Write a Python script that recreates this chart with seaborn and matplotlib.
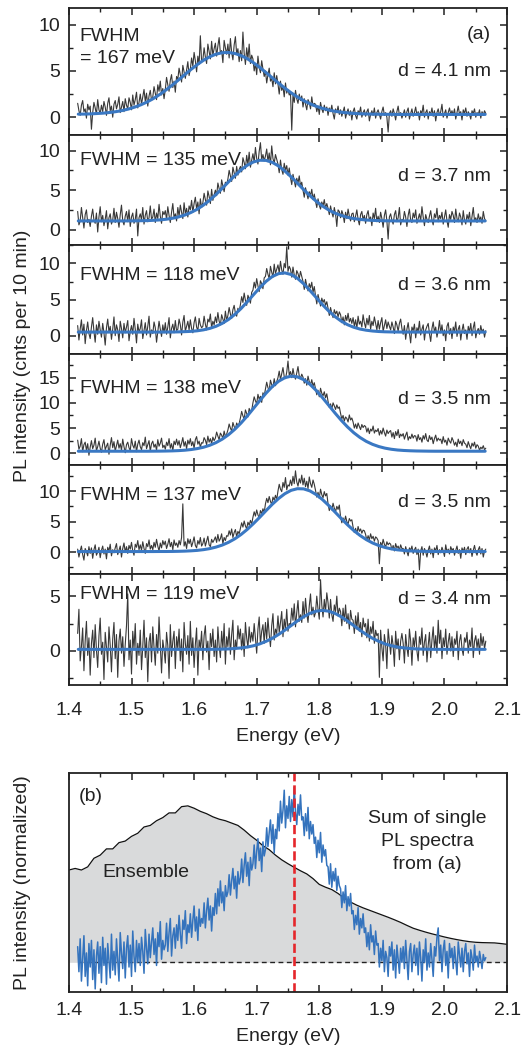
import numpy as np
import matplotlib
matplotlib.use("Agg")
import matplotlib.pyplot as plt
from matplotlib.ticker import MultipleLocator
import seaborn as sns

# single-dot PL spectra (cnts per 10 min), grid starts at 1.414 eV, 2 meV steps
counts_41 = [1.5, 0.7, 0.2, 1.3, 1.8, 0.6, 0.9, -0.1, 1.4, 0.8,
             1.2, -1.3, 0.5, 1.6, 1.0, 0.3, 1.9, 0.8, 0.4, 1.3,
             0.6, 1.7, 1.1, 0.2, 1.5, 2.1, 0.7, 1.2, 0.0, 1.4,
             1.8, 0.9, 1.4, 2.2, 0.5, 1.1, 1.7, 0.6, 2.0, 1.3,
             0.9, 2.1, 1.6, 0.8, 2.4, 1.3, 1.9, 2.7, 1.0, 1.6,
             2.5, 1.4, 2.2, 3.0, 1.7, 2.6, 1.2, 2.3, 2.9, 1.8,
             2.2, 3.3, 2.6, 1.9, 3.5, 2.8, 3.9, 2.4, 3.1, 2.0,
             3.0, 4.3, 3.5, 2.8, 4.0, 4.6, 3.2, 3.9, 2.7, 4.4,
             4.1, 5.3, 4.6, 3.8, 5.6, 4.9, 4.2, 5.1, 6.0, 4.5,
             5.2, 6.4, 5.5, 7.0, 6.1, 4.9, 6.6, 5.7, 8.8, 6.0,
             6.2, 7.5, 6.5, 5.8, 7.9, 7.1, 6.3, 8.2, 6.7, 7.4,
             8.0, 6.6, 7.7, 8.6, 6.9, 7.2, 5.9, 8.3, 7.5, 6.8,
             7.9, 6.4, 8.5, 7.0, 6.2, 7.8, 8.7, 6.8, 7.4, 6.0,
             7.2, 6.1, 9.2, 6.9, 5.7, 7.5, 6.3, 7.9, 5.8, 6.7,
             6.3, 5.0, 5.8, 4.6, 6.6, 5.4, 4.8, 6.1, 5.2, 4.4,
             5.0, 3.7, 4.6, 5.3, 3.9, 4.2, 3.3, 4.8, 3.6, 4.5,
             3.6, 2.5, 3.9, 2.9, 3.3, 2.2, 3.7, 2.6, 3.0, 2.4,
             2.7, -1.4, 2.4, 1.6, 2.9, 2.0, 1.5, 2.5, 1.8, 2.3,
             1.1, 2.0, 1.4, 0.8, 1.9, 1.6, 0.9, 2.2, 1.2, 1.5,
             1.4, 0.6, 1.2, 0.3, 1.6, 0.9, 0.5, 1.3, 0.7, 1.1,
             0.2, 1.0, 0.6, 1.3, 0.4, -0.2, 0.9, 0.5, 1.2, 0.3,
             0.8, 0.1, 0.6, 1.1, -0.1, 0.5, 0.9, 0.2, 0.7, -0.3,
             0.6, 1.0, 0.2, -0.2, 0.7, 0.4, 1.1, 0.0, 0.5, 0.8,
             0.1, 0.6, 0.9, -0.4, 0.3, 0.7, 0.2, 1.0, -0.1, 0.5,
             0.8, 0.3, -0.2, 0.6, 1.1, 0.2, 0.5, 0.0, -1.6, 0.4,
             0.7, 0.1, 0.9, 0.4, -0.3, 0.6, 1.2, 0.2, 0.5, -0.1,
             0.3, 0.8, 0.0, 0.6, 1.0, -0.2, 0.4, 0.9, 0.1, 0.5,
             1.1, 0.2, 0.6, -0.3, 0.7, 0.4, 1.3, 0.0, 0.5, 0.8,
             -0.2, 0.6, 0.3, 1.0, 0.1, 0.7, -0.4, 0.5, 0.9, 0.2,
             0.6, 1.4, 0.0, 0.4, 0.8, -0.1, 0.5, 1.0, 0.3, 0.7,
             0.2, 0.9, -0.2, 0.5, 1.2, 0.3, 0.6, -0.3, 0.8, 0.4,
             1.0, 0.1, 0.6, 0.3, -0.2, 0.7, 0.4, 0.9, 0.0, 0.5,
             0.3, 0.8, -0.1, 0.6, 0.2, 0.7, 0.4]
counts_37 = [2.3, 0.6, 1.1, 2.8, 1.5, 0.2, 1.9, 2.5, 0.9, 1.3,
             0.4, 1.7, 2.6, 1.2, 0.8, 2.1, -0.3, 1.6, 2.9, 1.0,
             1.8, 0.5, 1.3, 2.4, 0.1, 1.5, 2.0, 0.7, 1.2, 2.7,
             0.9, 2.2, 1.4, 0.3, 1.9, 3.1, 1.1, 0.6, 1.7, 2.3,
             1.0, 2.5, 0.4, 1.6, 2.1, 0.8, 1.3, 2.6, -0.8, 1.5,
             2.0, 1.2, 2.8, 0.7, 1.8, 2.4, 1.0, 1.5, 3.0, 1.3,
             1.6, 2.6, 0.9, 2.1, 1.4, 3.2, 1.7, 0.8, 2.3, 1.9,
             2.4, 1.3, 2.9, 1.8, 0.9, 2.2, 3.3, 1.5, 2.0, 1.1,
             2.8, 1.7, 3.1, 2.2, 1.4, 3.4, 2.0, 2.7, 1.6, 3.0,
             2.5, 3.7, 2.2, 3.3, 4.1, 2.6, 3.5, 2.0, 3.9, 2.8,
             3.4, 4.6, 3.8, 3.1, 4.9, 4.2, 3.3, 5.1, 3.7, 4.4,
             5.0, 4.3, 5.9, 5.2, 4.6, 6.3, 5.5, 4.8, 6.0, 5.7,
             6.4, 7.5, 6.8, 6.1, 7.9, 7.2, 6.5, 8.0, 6.9, 7.6,
             8.0, 7.3, 9.1, 8.5, 7.7, 9.4, 8.2, 9.8, 7.9, 8.8,
             9.6, 8.5, 10.4, 9.0, 8.3, 9.9, 11.0, 8.8, 9.5, 8.7,
             9.3, 10.2, 8.6, 9.7, 8.2, 10.6, 9.0, 8.4, 9.5, 8.9,
             8.3, 7.2, 8.8, 7.6, 7.0, 8.4, 7.5, 8.1, 6.9, 7.8,
             6.6, 5.7, 7.0, 6.2, 5.4, 6.5, 5.9, 6.8, 5.5, 6.0,
             5.0, 4.1, 5.3, 4.6, 3.9, 4.8, 4.3, 5.1, 3.8, 4.5,
             3.6, 2.8, 3.9, 3.1, 2.6, 3.5, 3.0, 3.8, 2.7, 3.3,
             2.7, 1.9, 3.0, 2.2, 1.6, 2.8, 2.0, 0.4, 2.5, 2.3,
             1.5, 2.4, 1.9, 0.9, 2.2, 1.4, 2.6, 1.7, 1.1, 2.0,
             2.1, 1.0, 1.7, 2.5, 1.3, 0.6, 1.9, 2.3, 1.2, 1.8,
             0.8, 1.9, 2.4, 1.2, 1.6, 0.5, 2.1, 1.4, 2.7, 1.0,
             1.7, 0.9, 2.2, 1.4, 0.3, 1.8, 2.5, 1.1, -1.2, 1.6,
             2.0, 1.2, 0.7, 1.9, 2.4, 1.0, 1.5, 2.8, 0.6, 1.3,
             1.1, 2.3, 1.6, 0.4, 1.8, 2.6, 1.2, 0.9, 2.1, 1.5,
             2.5, 0.8, 1.4, 2.0, 1.1, 2.9, 1.6, 0.5, 1.9, 1.3,
             0.9, 1.7, 2.4, 1.2, 0.6, 2.0, 1.5, 2.7, 1.0, 1.8,
             1.4, 2.2, 0.7, 1.6, 2.5, 1.1, 0.3, 1.9, 1.3, 2.3,
             1.8, 0.9, 2.6, 1.4, 1.0, 2.1, 1.6, 0.6, 2.4, 1.2,
             0.7, 1.9, 1.3, 2.2, 0.5, 1.7, 2.8, 1.1, 1.5, 0.9,
             2.0, 1.2, 1.6, 0.8, 2.3, 1.4, 1.1]
counts_36 = [1.4, -0.6, 0.9, 2.2, 0.1, 1.6, -1.1, 0.7, 1.9, 0.3,
             -0.4, 1.2, 2.5, 0.6, -0.9, 1.5, 0.2, 2.0, 0.8, -0.2,
             1.7, 0.4, -1.3, 1.1, 2.3, 0.5, 1.3, -0.5, 0.9, 2.6,
             0.0, 1.5, 0.8, -0.8, 2.0, 1.0, -0.3, 1.7, 0.4, 1.2,
             2.1, -0.7, 0.6, 1.4, 0.2, 2.4, 0.9, -1.0, 1.6, 0.5,
             1.0, 2.2, -0.4, 0.7, 1.8, 0.1, 1.3, 2.7, -0.2, 0.8,
             0.3, 1.9, 1.1, -0.9, 0.6, 2.0, 0.9, -0.1, 1.5, 0.4,
             1.8, 0.2, 1.2, 2.5, -0.3, 1.0, 1.6, 0.4, 2.1, 0.7,
             0.9, 2.3, 1.5, 0.1, 1.9, 2.8, 0.6, 1.3, 2.0, 0.8,
             2.2, 1.0, 0.4, 1.8, 2.6, 1.2, 0.7, 2.4, 1.5, 1.1,
             1.3, 2.7, 1.6, 0.8, 2.3, 1.9, 3.0, 1.1, 2.0, 1.5,
             2.6, 1.8, 3.2, 2.0, 1.5, 2.9, 2.3, 1.7, 3.4, 2.1,
             2.8, 3.9, 3.0, 2.4, 3.6, 4.2, 3.1, 2.7, 3.8, 3.4,
             4.3, 5.4, 4.6, 5.9, 4.9, 4.2, 5.6, 5.1, 4.5, 6.0,
             6.3, 7.4, 6.6, 7.9, 6.9, 6.1, 7.6, 7.2, 6.5, 8.0,
             8.2, 9.3, 8.5, 7.9, 9.6, 8.8, 8.1, 9.9, 8.6, 9.2,
             9.8, 8.7, 10.3, 9.1, 8.5, 10.0, 9.4, 12.3, 8.9, 9.6,
             9.2, 8.1, 9.5, 8.4, 7.8, 9.0, 8.6, 7.9, 8.9, 8.2,
             7.5, 6.4, 7.8, 6.9, 6.2, 7.2, 6.6, 7.4, 6.0, 6.8,
             5.5, 4.4, 5.7, 4.9, 4.1, 5.2, 4.6, 5.0, 4.2, 4.7,
             3.8, 2.8, 3.9, 3.1, 2.5, 3.6, 3.0, 3.4, 2.6, 3.3,
             2.9, 1.8, 2.6, 1.5, 2.8, 2.1, 3.1, 1.9, 2.4, 1.7,
             2.5, 1.3, 2.2, 1.0, 2.7, 1.6, 2.0, 1.2, 2.9, 1.8,
             1.1, 2.4, 1.5, 2.8, 0.9, 2.0, 1.4, 2.6, 1.7, 0.8,
             2.1, 0.9, 1.8, 2.5, 0.6, 1.4, 2.2, 1.0, 1.9, 1.3,
             0.8, 1.9, 1.2, 0.3, 2.0, 1.5, 0.6, 1.7, 2.3, 1.0,
             0.2, 1.4, -0.5, 0.9, 1.8, 0.4, -1.0, 1.2, 0.7, 1.6,
             -0.3, 1.1, 0.6, 2.0, 0.1, 0.9, 1.5, -0.6, 0.8, 1.3,
             1.7, 0.3, -0.8, 1.0, 1.9, 0.5, 1.2, -0.2, 0.7, 2.1,
             0.4, 1.5, 0.0, 0.8, -0.7, 1.3, 1.8, 0.2, 1.0, -0.4,
             1.2, 0.6, 1.9, -0.1, 0.9, 1.4, -0.6, 0.7, 1.6, 0.3,
             0.8, -0.5, 1.3, 0.5, 1.7, 0.0, 1.1, 1.9, -0.3, 0.6,
             1.0, 0.2, 1.4, 0.5, 0.9, -0.2, 0.7]
counts_35a = [2.6, 0.8, 1.4, 2.9, 0.3, 1.7, 2.2, 0.6, 1.9, -0.4,
              1.2, 2.5, 0.9, 1.6, 3.0, 0.5, 1.3, 2.4, 1.0, 0.2,
              1.8, 2.7, 0.7, 1.4, 2.0, -0.2, 1.6, 3.1, 1.1, 2.3,
              0.4, 1.5, 2.6, 1.0, 1.9, 0.6, 2.8, 1.3, 0.1, 1.7,
              2.2, 1.1, 0.5, 2.9, 1.6, 1.0, 2.4, 0.3, 1.8, 2.6,
              1.3, 0.7, 2.1, 1.5, 3.2, 0.9, 1.7, 2.5, 0.4, 1.9,
              2.4, 1.2, 1.8, 0.6, 2.7, 1.4, 2.0, 3.0, 1.1, 1.6,
              0.8, 2.2, 1.5, 2.9, 1.0, 1.9, 0.5, 2.4, 1.7, 2.8,
              1.6, 2.5, 1.1, 2.0, 3.1, 1.4, 2.3, 0.9, 2.6, 1.8,
              2.9, 1.5, 2.3, 1.0, 2.7, 3.3, 1.8, 2.4, 1.2, 2.1,
              2.0, 3.1, 2.6, 1.7, 3.4, 2.2, 2.9, 1.9, 3.2, 2.5,
              3.0, 4.2, 3.4, 2.7, 4.0, 3.6, 2.9, 4.4, 3.3, 3.8,
              4.6, 5.8, 5.0, 4.4, 6.1, 5.3, 4.8, 6.0, 5.5, 5.9,
              7.0, 8.3, 7.4, 6.8, 8.6, 7.9, 7.2, 8.9, 8.1, 8.5,
              10.0, 11.2, 10.4, 9.8, 11.7, 10.7, 11.3, 10.1, 12.0, 11.4,
              12.8, 14.1, 13.0, 12.5, 14.5, 13.6, 13.1, 14.8, 13.4, 14.2,
              15.0, 16.3, 14.6, 15.8, 17.0, 15.2, 14.8, 16.1, 18.3, 15.5,
              16.2, 15.0, 16.8, 15.4, 14.7, 16.0, 17.2, 15.3, 14.9, 15.7,
              15.1, 13.9, 14.8, 13.5, 15.3, 14.2, 13.6, 14.6, 13.3, 14.0,
              12.8, 11.6, 12.5, 11.2, 12.9, 11.9, 11.4, 12.2, 11.0, 11.8,
              10.3, 9.1, 9.8, 8.8, 10.0, 9.4, 8.7, 9.6, 8.9, 9.2,
              7.9, 6.8, 7.5, 6.4, 7.2, 6.9, 6.2, 7.6, 6.6, 7.0,
              6.2, 5.0, 5.8, 4.9, 6.0, 5.3, 4.7, 5.7, 5.1, 5.5,
              5.3, 4.2, 5.0, 3.9, 4.8, 4.4, 5.4, 4.0, 4.6, 4.3,
              4.9, 3.6, 4.5, 3.8, 5.0, 4.1, 3.4, 4.6, 3.9, 4.3,
              4.5, 3.2, 4.1, 2.9, 4.3, 3.5, 4.7, 3.1, 3.8, 3.4,
              3.9, 2.8, 3.6, 4.2, 2.6, 3.3, 2.9, 3.8, 3.0, 3.5,
              3.4, 2.4, 3.7, 2.7, 3.1, 2.2, 3.5, 2.8, 3.9, 2.6,
              2.3, 3.5, 2.7, 3.2, 1.9, 2.9, 3.6, 2.4, 3.0, 2.6,
              2.8, 1.9, 3.3, 2.2, 2.6, 1.6, 3.0, 2.4, 2.0, 3.1,
              2.5, 1.6, 2.2, 1.3, 2.8, 1.9, 2.4, 1.5, 2.7, 2.0,
              1.8, 1.1, 2.3, 1.5, 0.9, 2.0, 1.4, 2.2, 1.0, 1.7,
              1.4, 0.6, 1.2, 0.9, 1.5, 0.7, 1.0]
counts_35b = [0.5, -0.8, 0.2, 1.0, -0.4, -1.3, 0.6, 0.1, -0.6, 0.9,
              -0.2, 0.7, -1.0, 0.4, 1.2, -0.5, 0.0, 0.8, -0.9, 0.3,
              1.0, -0.3, 0.5, -1.1, 0.8, 0.2, 1.3, -0.6, 0.4, -0.1,
              0.7, 1.4, -0.4, 0.3, 1.0, -0.8, 0.6, 1.5, 0.0, 0.9,
              -0.2, 1.1, 0.5, 1.6, 0.2, -0.5, 1.3, 0.8, 1.9, 0.4,
              1.2, 0.3, 1.7, 0.6, -0.2, 1.4, 0.9, 2.0, 0.5, 1.1,
              0.4, 1.6, 0.8, 2.1, 1.0, 0.2, 1.5, 0.7, 1.9, 1.2,
              1.8, 0.6, 1.3, 2.2, 0.9, 1.6, 0.4, 2.0, 1.1, 1.5,
              0.8, 1.9, 1.2, 2.4, 7.9, 1.0, 1.7, 0.6, 2.2, 1.4,
              2.1, 0.9, 1.6, 2.5, 1.1, 0.7, 1.9, 1.3, 2.4, 1.0,
              1.4, 2.3, 1.0, 1.8, 2.6, 1.2, 0.9, 2.1, 1.6, 2.0,
              2.5, 1.6, 2.9, 1.8, 2.2, 3.0, 1.4, 2.4, 1.9, 2.7,
              2.6, 3.5, 2.8, 3.8, 2.4, 3.2, 3.7, 2.5, 3.4, 3.0,
              3.9, 4.8, 4.1, 5.1, 4.3, 3.8, 4.9, 4.4, 5.2, 4.6,
              5.7, 6.6, 5.9, 6.9, 6.1, 5.6, 6.8, 6.3, 7.1, 6.5,
              7.9, 8.8, 8.1, 9.1, 8.3, 7.8, 9.0, 8.5, 9.3, 8.6,
              10.0, 11.1, 10.3, 9.9, 11.4, 10.6, 12.2, 10.2, 11.0, 10.8,
              11.8, 10.9, 12.4, 11.2, 13.3, 11.5, 10.8, 12.0, 11.3, 12.6,
              11.0, 12.1, 10.7, 11.6, 10.4, 12.3, 11.2, 10.6, 11.8, 11.1,
              10.1, 9.0, 9.8, 8.8, 10.3, 9.4, 8.9, 9.9, 9.2, 9.6,
              7.9, 6.8, 7.6, 6.9, 8.0, 7.2, 6.6, 7.5, 7.0, 7.7,
              5.8, 4.8, 5.6, 4.9, 5.9, 5.0, 4.6, 5.5, 5.1, 5.3,
              4.1, 3.2, 3.9, 3.0, 4.2, 3.4, 3.8, 3.1, 3.6, 3.5,
              2.9, 1.9, 2.7, 2.0, 3.0, 2.2, 2.6, 1.8, 2.5, 2.3,
              1.9, -1.9, 1.6, 1.0, 2.1, 1.3, 0.8, 1.7, 1.2, 1.5,
              1.3, 0.4, 1.1, 0.2, 1.4, 0.7, 1.0, 0.3, 1.2, 0.6,
              0.6, -0.3, 0.9, 0.1, -0.6, 0.7, 0.3, 1.0, -0.2, 0.4,
              0.8, -0.4, 0.5, -2.9, 0.2, 0.9, -0.5, 0.6, 0.1, -0.8,
              0.3, 1.0, -0.3, 0.5, -0.9, 0.7, 0.2, 1.1, -0.4, 0.4,
              -0.1, 0.8, 0.2, -0.7, 1.2, 0.0, 0.5, -0.3, 0.9, 0.3,
              0.6, -0.5, 0.3, 1.0, -0.2, 0.4, -1.0, 0.7, 0.1, 0.8,
              -0.4, 0.5, 0.9, -0.1, 0.6, -0.7, 0.3, 1.1, 0.0, -0.5,
              0.4, 0.9, -0.3, 0.6, -0.8, 0.2, 0.5]
counts_34 = [1.6, 3.8, -0.9, 0.4, 2.1, -1.8, 0.9, 2.7, -0.4, 1.2,
             -2.2, 0.7, 1.9, -0.6, 2.4, 0.1, -1.5, 1.4, 3.0, -0.3,
             0.8, -2.6, 1.7, 0.3, -1.0, 2.2, 0.5, -1.9, 1.1, 2.6,
             -0.7, 1.5, -2.4, 0.9, 2.0, -0.2, 1.3, -1.4, 0.6, 2.3,
             5.2, -0.8, 1.0, -2.1, 1.8, 0.2, 2.5, -1.2, 0.7, -0.4,
             1.9, -1.7, 0.4, 2.8, -0.6, 1.2, -2.8, 0.8, 1.6, -1.0,
             2.2, 0.3, -1.3, 1.5, -0.2, 3.1, 0.6, -2.0, 1.0, 0.1,
             -1.1, 1.7, 0.5, -2.5, 2.4, -0.5, 0.9, 1.8, -1.6, 1.3,
             0.2, 2.0, -0.9, 1.1, -1.9, 2.6, 0.7, -0.3, 1.4, -1.2,
             2.7, -0.4, 1.2, -1.5, 0.6, 2.1, -2.2, 1.0, 0.3, 1.8,
             -0.8, 1.4, 2.3, -0.1, 0.9, -1.7, 1.6, 0.4, 2.0, -0.5,
             1.0, -1.0, 2.2, 0.5, -0.6, 1.8, 0.2, 2.5, -1.2, 1.3,
             0.4, 2.1, -0.3, 1.5, 2.8, -0.8, 1.0, 0.2, 2.3, 1.1,
             2.0, 0.1, 1.6, -0.5, 2.6, 1.2, 0.3, 2.2, 0.8, 1.7,
             0.9, 2.5, 1.2, -0.2, 2.0, 3.1, 0.6, 1.8, 2.4, 0.7,
             2.6, 1.1, 3.0, 1.5, 0.4, 2.3, 3.4, 1.0, 2.0, 1.6,
             3.2, 1.7, 2.6, 3.6, 1.3, 2.9, 2.0, 3.8, 1.8, 2.5,
             2.4, 3.9, 2.8, 4.3, 2.2, 3.5, 4.6, 2.7, 3.3, 2.6,
             4.5, 3.0, 4.8, 3.4, 2.6, 4.1, 5.2, 3.3, 4.0, 3.1,
             3.5, 5.0, 3.8, 2.9, 6.5, 4.2, 3.1, 4.7, 3.6, 5.3,
             4.4, 3.0, 4.7, 3.3, 2.7, 4.2, 3.6, 5.0, 3.2, 3.9,
             3.6, 2.3, 3.9, 2.7, 4.2, 2.5, 3.4, 2.0, 3.7, 2.9,
             2.8, 1.6, 3.2, 2.0, 3.5, 1.8, 2.6, 1.3, 3.0, 2.2,
             2.5, 1.2, 2.9, 0.9, 2.2, 1.6, 2.7, 0.7, 1.9, 1.4,
             1.6, -2.4, 1.9, 0.3, -0.9, 1.5, 0.6, -1.6, 2.0, 0.8,
             -0.3, 1.4, 0.5, -1.4, 1.8, 0.2, 1.1, -0.8, 0.9, 1.6,
             0.7, -1.1, 1.5, 0.3, -0.5, 2.0, 0.9, -1.3, 1.2, 0.4,
             1.8, 0.0, -0.9, 1.3, 0.6, 2.1, -0.4, 0.8, 1.5, -1.0,
             0.5, 1.7, -0.6, 1.0, 2.2, 0.1, 1.4, -0.2, 2.8, 0.7,
             1.9, -0.7, 1.2, 0.4, 2.0, -0.3, 0.8, 1.6, 0.0, 1.3,
             -0.5, 1.1, 0.6, 1.8, -0.8, 0.9, 1.5, 0.2, -0.4, 1.2,
             0.8, 1.7, -0.2, 1.0, 0.4, 2.1, -0.6, 0.9, 1.4, 0.3,
             1.1, -0.3, 1.6, 0.5, 1.3, 0.2, 0.9]

# gaussian fits, grid starts at 1.415 eV, 10 meV steps
fit_41 = [0.33, 0.34, 0.36, 0.40, 0.44, 0.51, 0.60, 0.72, 0.88, 1.09,
          1.34, 1.65, 2.02, 2.45, 2.94, 3.46, 4.02, 4.59, 5.16, 5.68,
          6.15, 6.53, 6.81, 6.97, 6.99, 6.89, 6.66, 6.32, 5.88, 5.37,
          4.82, 4.25, 3.68, 3.14, 2.64, 2.19, 1.79, 1.46, 1.18, 0.96,
          0.78, 0.64, 0.54, 0.47, 0.41, 0.37, 0.35, 0.33, 0.32, 0.31,
          0.31, 0.30, 0.30, 0.30, 0.30, 0.30, 0.30, 0.30, 0.30, 0.30,
          0.30, 0.30, 0.30, 0.30, 0.30, 0.30]
fit_37 = [1.10, 1.10, 1.10, 1.10, 1.10, 1.10, 1.10, 1.10, 1.11, 1.11,
          1.13, 1.14, 1.18, 1.23, 1.31, 1.43, 1.60, 1.84, 2.17, 2.58,
          3.11, 3.73, 4.45, 5.23, 6.04, 6.84, 7.56, 8.15, 8.57, 8.78,
          8.76, 8.51, 8.05, 7.42, 6.68, 5.88, 5.07, 4.30, 3.60, 2.99,
          2.49, 2.09, 1.79, 1.56, 1.40, 1.29, 1.22, 1.17, 1.14, 1.12,
          1.11, 1.10, 1.10, 1.10, 1.10, 1.10, 1.10, 1.10, 1.10, 1.10,
          1.10, 1.10, 1.10, 1.10, 1.10, 1.10]
fit_36 = [0.50, 0.50, 0.50, 0.50, 0.50, 0.50, 0.50, 0.50, 0.50, 0.50,
          0.50, 0.50, 0.50, 0.50, 0.51, 0.51, 0.53, 0.56, 0.60, 0.68,
          0.81, 1.01, 1.30, 1.71, 2.25, 2.94, 3.76, 4.70, 5.68, 6.65,
          7.52, 8.19, 8.59, 8.69, 8.47, 7.95, 7.19, 6.27, 5.29, 4.31,
          3.42, 2.65, 2.02, 1.53, 1.17, 0.92, 0.76, 0.65, 0.58, 0.54,
          0.52, 0.51, 0.50, 0.50, 0.50, 0.50, 0.50, 0.50, 0.50, 0.50,
          0.50, 0.50, 0.50, 0.50, 0.50, 0.50]
fit_35a = [0.40, 0.40, 0.40, 0.40, 0.40, 0.40, 0.40, 0.40, 0.40, 0.40,
           0.40, 0.40, 0.41, 0.42, 0.44, 0.47, 0.52, 0.60, 0.73, 0.92,
           1.19, 1.58, 2.11, 2.80, 3.68, 4.75, 6.00, 7.40, 8.92, 10.45,
           11.93, 13.24, 14.29, 14.99, 15.30, 15.16, 14.61, 13.69, 12.47, 11.05,
           9.53, 8.00, 6.55, 5.23, 4.08, 3.13, 2.36, 1.77, 1.33, 1.01,
           0.79, 0.64, 0.55, 0.49, 0.45, 0.43, 0.41, 0.40, 0.40, 0.40,
           0.40, 0.40, 0.40, 0.40, 0.40, 0.40]
fit_35b = [0.10, 0.10, 0.10, 0.10, 0.10, 0.10, 0.10, 0.10, 0.10, 0.10,
           0.10, 0.10, 0.10, 0.11, 0.11, 0.12, 0.14, 0.17, 0.22, 0.29,
           0.41, 0.58, 0.83, 1.16, 1.61, 2.18, 2.89, 3.73, 4.69, 5.72,
           6.80, 7.84, 8.78, 9.56, 10.11, 10.38, 10.35, 10.02, 9.42, 8.61,
           7.64, 6.58, 5.51, 4.49, 3.55, 2.74, 2.06, 1.51, 1.09, 0.77,
           0.54, 0.38, 0.28, 0.21, 0.16, 0.14, 0.12, 0.11, 0.10, 0.10,
           0.10, 0.10, 0.10, 0.10, 0.10, 0.10]
fit_34 = [0.15, 0.15, 0.15, 0.15, 0.15, 0.15, 0.15, 0.15, 0.15, 0.15,
          0.15, 0.15, 0.15, 0.15, 0.15, 0.15, 0.15, 0.15, 0.15, 0.15,
          0.15, 0.15, 0.16, 0.17, 0.19, 0.23, 0.28, 0.36, 0.48, 0.65,
          0.88, 1.16, 1.51, 1.90, 2.32, 2.74, 3.12, 3.43, 3.63, 3.70,
          3.63, 3.43, 3.12, 2.74, 2.32, 1.90, 1.51, 1.16, 0.88, 0.65,
          0.48, 0.36, 0.28, 0.23, 0.19, 0.17, 0.16, 0.15, 0.15, 0.15,
          0.15, 0.15, 0.15, 0.15, 0.15, 0.15]

spectra = [counts_41, counts_37, counts_36, counts_35a, counts_35b, counts_34]
fits = [fit_41, fit_37, fit_36, fit_35a, fit_35b, fit_34]
fwhm_labels = ["FWHM\n= 167 meV", "FWHM = 135 meV", "FWHM = 118 meV",
               "FWHM = 138 meV", "FWHM = 137 meV", "FWHM = 119 meV"]
d_labels = ["d = 4.1 nm", "d = 3.7 nm", "d = 3.6 nm",
            "d = 3.5 nm", "d = 3.5 nm", "d = 3.4 nm"]

# (b): ensemble spectrum, 1.40 to 2.10 eV in 10 meV steps (normalized)
ensemble = [0.59, 0.60, 0.59, 0.61, 0.665, 0.685, 0.725, 0.725, 0.765, 0.775,
            0.805, 0.825, 0.865, 0.875, 0.905, 0.925, 0.955, 0.955, 0.995, 1.00,
            0.985, 0.965, 0.95, 0.93, 0.915, 0.905, 0.89, 0.875, 0.845, 0.81,
            0.78, 0.745, 0.72, 0.685, 0.655, 0.63, 0.607, 0.585, 0.565, 0.535,
            0.498, 0.48, 0.465, 0.44, 0.41, 0.385, 0.365, 0.348, 0.333, 0.318,
            0.303, 0.288, 0.272, 0.255, 0.236, 0.218, 0.205, 0.193, 0.182, 0.172,
            0.162, 0.153, 0.145, 0.138, 0.132, 0.128, 0.126, 0.125, 0.124, 0.12,
            0.115]
# (b): sum of the single spectra, 1.414 eV onward in 2 meV steps (normalized)
single_sum = [0.10, -0.06, 0.15, -0.12, 0.03, 0.17, -0.09, 0.06, -0.15, 0.12,
              -0.03, 0.14, -0.11, 0.08, -0.17, 0.04, 0.13, -0.07, 0.10, -0.13,
              0.16, -0.02, 0.09, -0.14, 0.12, 0.01, -0.10, 0.18, -0.05, 0.07,
              -0.08, 0.15, 0.02, -0.12, 0.19, 0.06, -0.04, 0.13, -0.10, 0.09,
              0.17, -0.03, 0.11, -0.09, 0.20, 0.04, -0.06, 0.14, 0.00, 0.12,
              -0.02, 0.16, 0.07, -0.07, 0.21, 0.09, -0.01, 0.18, 0.03, 0.13,
              0.22, 0.05, 0.15, -0.02, 0.19, 0.10, 0.26, 0.02, 0.14, 0.08,
              0.11, 0.25, 0.07, 0.19, 0.28, 0.04, 0.17, 0.22, 0.09, 0.24,
              0.14, 0.30, 0.18, 0.09, 0.27, 0.21, 0.33, 0.12, 0.24, 0.19,
              0.31, 0.16, 0.27, 0.36, 0.20, 0.29, 0.14, 0.34, 0.23, 0.28,
              0.25, 0.38, 0.22, 0.33, 0.41, 0.27, 0.36, 0.20, 0.35, 0.30,
              0.44, 0.31, 0.47, 0.36, 0.52, 0.38, 0.45, 0.33, 0.49, 0.42,
              0.45, 0.56, 0.43, 0.52, 0.60, 0.47, 0.55, 0.41, 0.58, 0.50,
              0.54, 0.66, 0.51, 0.62, 0.70, 0.55, 0.64, 0.49, 0.67, 0.59,
              0.63, 0.75, 0.60, 0.71, 0.79, 0.65, 0.73, 0.58, 0.77, 0.68,
              0.72, 0.86, 0.74, 0.83, 0.91, 0.76, 0.88, 0.70, 0.85, 0.79,
              0.95, 0.84, 1.03, 0.89, 0.97, 1.10, 0.86, 1.00, 0.92, 1.06,
              0.90, 1.04, 0.93, 1.12, 0.96, 0.88, 1.01, 0.94, 1.07, 0.91,
              0.93, 0.81, 0.95, 0.84, 0.99, 0.79, 0.90, 0.82, 0.88, 0.76,
              0.80, 0.67, 0.78, 0.70, 0.83, 0.64, 0.75, 0.68, 0.72, 0.62,
              0.61, 0.50, 0.63, 0.48, 0.58, 0.52, 0.60, 0.46, 0.55, 0.49,
              0.47, 0.35, 0.45, 0.38, 0.49, 0.33, 0.42, 0.36, 0.44, 0.31,
              0.33, 0.21, 0.30, 0.24, 0.35, 0.18, 0.28, 0.22, 0.31, 0.19,
              0.22, 0.10, 0.19, 0.08, 0.24, 0.13, 0.17, 0.05, 0.20, 0.11,
              0.12, -0.03, 0.09, 0.01, 0.14, -0.06, 0.07, 0.03, -0.09, 0.10,
              0.04, 0.13, -0.05, 0.08, -0.10, 0.11, 0.02, -0.07, 0.09, 0.00,
              0.10, -0.04, 0.14, 0.01, -0.11, 0.07, 0.12, -0.06, 0.05, 0.11,
              -0.02, 0.09, -0.08, 0.13, 0.03, -0.12, 0.08, 0.00, 0.15, -0.05,
              0.06, -0.03, 0.12, 0.02, -0.09, 0.10, 0.04, 0.16, 0.22, 0.01,
              0.11, -0.06, 0.08, 0.14, -0.02, 0.07, -0.10, 0.12, 0.03, 0.09,
              -0.04, 0.10, 0.01, -0.08, 0.13, 0.05, -0.03, 0.09, -0.06, 0.07,
              0.12, -0.01, 0.06, -0.09, 0.08, 0.03, -0.05, 0.11, 0.00, 0.04,
              -0.03, 0.07, 0.02, -0.04, 0.05, 0.01, 0.03]
peak_energy = 1.76


def grid(start, step, n):
    return start + step * np.arange(n)


sns.set_theme(style="ticks")
plt.rcParams["font.family"] = ["Liberation Sans", "DejaVu Sans"]
plt.rcParams.update({
    "font.size": 14,
    "axes.labelsize": 14,
    "axes.linewidth": 1.3,
    "axes.edgecolor": "#222222",
    "xtick.direction": "in", "ytick.direction": "in",
    "xtick.top": True, "ytick.right": True,
    "xtick.labelsize": 14, "ytick.labelsize": 14,
    "xtick.major.size": 5, "ytick.major.size": 5,
    "xtick.minor.size": 3, "ytick.minor.size": 3,
    "xtick.major.width": 1.1, "ytick.major.width": 1.1,
    "xtick.minor.width": 1.0, "ytick.minor.width": 1.0,
    "xtick.major.pad": 7.5, "ytick.major.pad": 6,
    "xtick.color": "#222222", "ytick.color": "#222222",
    "text.color": "#222222", "axes.labelcolor": "#222222",
})

fig = plt.figure(figsize=(5.26, 10.5), dpi=100)
gs = fig.add_gridspec(6, 1, left=0.131, right=0.964, top=0.9924, bottom=0.3476,
                      hspace=0, height_ratios=[127, 110, 110, 111, 109, 111])
ylims = [(-1.9, 11.8), (-1.9, 12.0), (-2.6, 12.6), (-2.4, 19.6), (-3.6, 14.2), (-3.1, 7.0)]
fwhm_y = [0.69, 0.77, 0.72, 0.69, 0.72, 0.82]
d_y = [0.50, 0.62, 0.63, 0.595, 0.66, 0.77]

for i in range(6):
    ax = fig.add_subplot(gs[i])
    spec = spectra[i]
    fit = fits[i]
    sns.lineplot(x=grid(1.414, 0.002, len(spec)), y=spec, ax=ax, color="#383838",
                 lw=0.8, estimator=None, sort=False)
    sns.lineplot(x=grid(1.415, 0.01, len(fit)), y=fit, ax=ax, color="#3a78c3",
                 lw=2.2, estimator=None, sort=False)
    ax.set_xlim(1.4, 2.1)
    ax.set_ylim(*ylims[i])
    ax.xaxis.set_major_locator(MultipleLocator(0.1))
    ax.xaxis.set_minor_locator(MultipleLocator(0.05))
    ax.yaxis.set_major_locator(MultipleLocator(5))
    ax.yaxis.set_minor_locator(MultipleLocator(2.5))
    ax.tick_params(which="both", top=True, right=True)
    ax.text(0.025, fwhm_y[i], fwhm_labels[i], transform=ax.transAxes,
            ha="left", va="center", linespacing=1.35)
    ax.text(0.963, d_y[i], d_labels[i], transform=ax.transAxes,
            ha="right", va="center")
    if i == 0:
        ax.text(0.963, 0.787, "(a)", transform=ax.transAxes,
                ha="right", va="center")
    if i < 5:
        ax.tick_params(labelbottom=False)
    else:
        ax.tick_params(axis="x", pad=12)
        ax.set_xticklabels([f"{v:.1f}" for v in ax.get_xticks()])
        ax.set_xlabel("Energy (eV)", fontsize=14, labelpad=7)
    ax.set_ylabel("")

fig.text(0.042, 1 - 356 / 1050, "PL intensity (cnts per 10 min)", rotation=90,
         ha="center", va="center", fontsize=14)

# panel (b)
axb = fig.add_axes([0.131, 0.0552, 0.833, 0.2086])
e_ens = grid(1.40, 0.01, len(ensemble))
axb.fill_between(e_ens, ensemble, 0, color="#d9dadb", lw=0)
sns.lineplot(x=e_ens, y=ensemble, ax=axb, color="#111111", lw=0.9,
             estimator=None, sort=False)
axb.hlines(0, 1.414, 2.1, colors="#222222", linestyles=(0, (3.5, 2.5)), lw=1.0)
sns.lineplot(x=grid(1.414, 0.002, len(single_sum)), y=single_sum, ax=axb,
             color="#3473bd", lw=1.1, estimator=None, sort=False)
axb.axvline(peak_energy, color="#e5262b", lw=1.9, ls=(0, (3.5, 1.5)))
axb.set_xlim(1.4, 2.1)
axb.set_ylim(-0.19, 1.21)
axb.xaxis.set_major_locator(MultipleLocator(0.1))
axb.xaxis.set_minor_locator(MultipleLocator(0.05))
axb.set_yticks([])
axb.tick_params(axis="x", which="both", top=True)
axb.set_xticklabels([f"{v:.1f}" for v in axb.get_xticks()])
axb.set_xlabel("Energy (eV)", fontsize=14, labelpad=6)
axb.set_ylabel("")
axb.text(1.416, 1.058, "(b)", ha="left", va="center")
axb.text(1.523, 0.577, "Ensemble", ha="center", va="center")
axb.text(1.973, 0.77, "Sum of single\nPL spectra\nfrom (a)", ha="center",
         va="center", linespacing=1.45)
fig.text(0.042, 1 - 883 / 1050, "PL intensity (normalized)", rotation=90,
         ha="center", va="center", fontsize=14)

fig.savefig("out.png", dpi=100)
